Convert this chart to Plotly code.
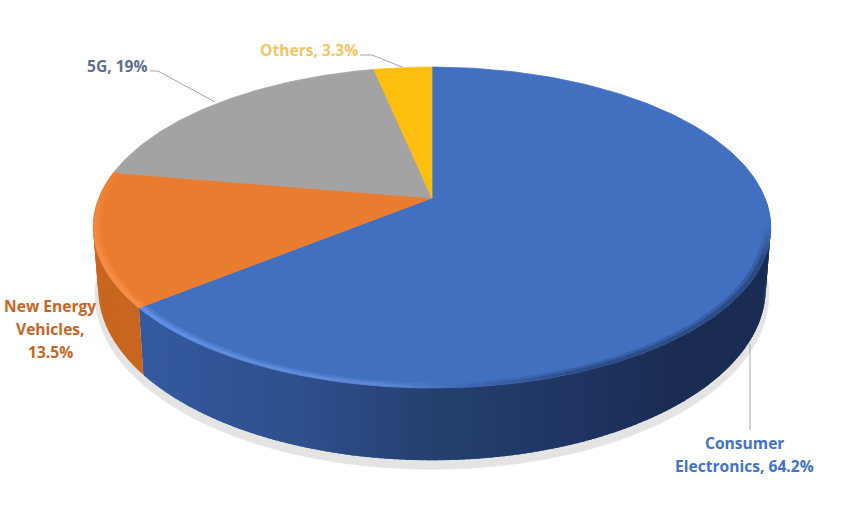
import math
import plotly.graph_objects as go

categories = ["Consumer Electronics", "New Energy Vehicles", "5G", "Others"]
shares = [64.2, 13.5, 19, 3.3]
label_lines = [["Consumer", "Electronics, 64.2%"], ["New Energy", "Vehicles,", "13.5%"], ["5G, 19%"], ["Others, 3.3%"]]
top_colors = ["#4270c0", "#ea7c30", "#a3a3a3", "#fdbe0e"]
label_colors = ["#4472c4", "#c8651f", "#5f6f8c", "#f3c65f"]
label_x = [744.5, 50, 117, 308.5]
label_y = [[443, 466], [306, 329, 352], [66], [50]]
leaders = [([750, 750], [344, 430]), ([], []), ([150, 158, 215], [71, 71, 102]), ([360, 372, 402], [55, 55, 67])]

W, H = 863, 509
CX, CY, RX, RY, K, DEPTH, FOOT = 432, 198, 333, 155, 0.184, 59, 0.985


def proj(t, r=1.0):
    a = math.radians(t)
    x, y = r * math.sin(a), r * math.cos(a)
    s = 1 + K * y
    return CX + RX * x / s, CY - RY * y / s, s


def foot(t):
    x, y, s = proj(t)
    return CX + (x - CX) * FOOT, y + DEPTH / s


def lerp_hex(stops, v):
    for (v0, c0), (v1, c1) in zip(stops, stops[1:]):
        if v <= v1:
            f = max(0, (v - v0) / (v1 - v0))
            a = [int(c0[i:i + 2], 16) for i in (1, 3, 5)]
            b = [int(c1[i:i + 2], 16) for i in (1, 3, 5)]
            return "#%02x%02x%02x" % tuple(round(p + (q - p) * f) for p, q in zip(a, b))
    return stops[-1][1]


blue_side = [(140, "#35599f"), (300, "#2d4f8d"), (432, "#25406f"), (560, "#1f3563"), (680, "#1a2c52"), (780, "#1a2c52")]
orange_side = "#c8651f"
blue_rim = [(100, "#4270c0"), (112, "#2a4a85"), (160, "#2c4e8b"), (172, "#3a62ac"), (188, "#5f88d4"), (231, "#6090e8")]
orange_rim = [(231, "#f88f48"), (262, "#f4873c"), (285, "#ea7c30")]

fig = go.Figure()


def poly(xs, ys, color, lw=0.8):
    fig.add_trace(go.Scatter(x=xs, y=ys, mode="lines", fill="toself", fillcolor=color,
                             line=dict(color=color, width=lw), hoverinfo="skip", showlegend=False))


# slice angular extents, clockwise from the top
bounds = [0]
for v in shares:
    bounds.append(bounds[-1] + v / sum(shares) * 360)

# soft shadow under the disc, tapering to nothing at the two sides
sx, sy = [], []
for d in range(92, 270, 2):
    fx, fy = foot(d)
    w = max(0.0, -math.cos(math.radians(d)))
    sx.append(CX + (fx - CX) * (1 + 0.022 * math.sqrt(w)))
    sy.append(fy + 9 * w)
poly(sx, sy, "#e4e4e4")

# curved side walls of the front slices, each band overlapping the previous one
for i in (0, 1):
    t0 = max(bounds[i], 90)
    t1 = min(bounds[i + 1], 280)
    n = max(1, int(t1 - t0))
    for j in range(n):
        a, b = t0 + (t1 - t0) * j / n, min(t0 + (t1 - t0) * (j + 1.8) / n, t1)
        xa, ya, _ = proj(a)
        xb, yb, _ = proj(b)
        fax, fay = foot(a)
        fbx, fby = foot(b)
        c = lerp_hex(blue_side, (xa + xb) / 2) if i == 0 else orange_side
        poly([xa, xb, fbx, fax, xa], [ya, yb, fby, fay, ya], c, lw=0)

# top faces
for i, c in enumerate(top_colors):
    n = max(4, int(bounds[i + 1] - bounds[i]))
    xs, ys = [CX], [CY]
    for j in range(n + 1):
        x, y, _ = proj(bounds[i] + (bounds[i + 1] - bounds[i]) * j / n)
        xs.append(x)
        ys.append(y)
    xs.append(CX)
    ys.append(CY)
    poly(xs, ys, c)

# bevel along the front rim: two rings, the inner one half blended into the top colour
for i, stops, (t0, t1) in ((0, blue_rim, (100, bounds[1])), (1, orange_rim, (bounds[1], bounds[2]))):
    n = int((t1 - t0) / 2)
    for j in range(n):
        a, b = t0 + (t1 - t0) * j / n, t0 + (t1 - t0) * (j + 1) / n
        base = lerp_hex(stops, (a + b) / 2)
        mixed = lerp_hex([(0, base), (1, top_colors[i])], 0.55)
        for r0, r1, c in ((0.992, 0.978, mixed), (1.0, 0.988, base)):
            xa, ya, _ = proj(a, r0)
            xb, yb, _ = proj(b, r0)
            xc, yc, _ = proj(b, r1)
            xd, yd, _ = proj(a, r1)
            poly([xa, xb, xc, xd, xa], [ya, yb, yc, yd, ya], c, lw=0.4)

# leader lines
for lx, ly in leaders:
    if lx:
        fig.add_trace(go.Scatter(x=lx, y=ly, mode="lines", line=dict(color="#a6a6a6", width=1),
                                 hoverinfo="skip", showlegend=False))

# labels
for lines, color, lx, ys in zip(label_lines, label_colors, label_x, label_y):
    for line, ly in zip(lines, ys):
        fig.add_annotation(x=lx, y=ly, text="<b>%s</b>" % line, showarrow=False, xanchor="center", yanchor="middle",
                           font=dict(family="Open Sans", size=15.6, color=color), align="center")

fig.update_xaxes(range=[0, W], visible=False, fixedrange=True)
fig.update_yaxes(range=[H, 0], visible=False, fixedrange=True)
fig.update_layout(width=W, height=H, margin=dict(l=0, r=0, t=0, b=0),
                  paper_bgcolor="white", plot_bgcolor="white", showlegend=False)
# Drop the browser's default page margin so that the figure fills the 863x509 window
fig.write_html("out.html", config={"displayModeBar": False},
               post_script="document.body.style.margin='0';document.documentElement.style.overflow='hidden';")
